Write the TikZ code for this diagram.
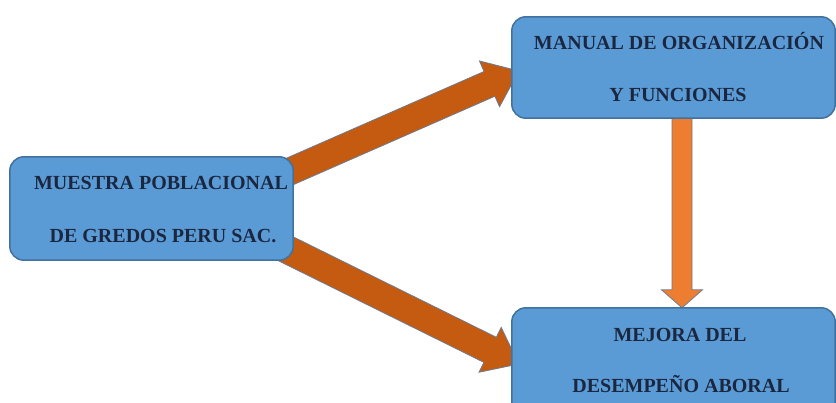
\documentclass[tikz,border=0pt]{standalone}
\usepackage{fontspec}
\setmainfont{Liberation Serif}
\usetikzlibrary{calc}
\definecolor{boxblue}{HTML}{5B9BD5}
\definecolor{boxedge}{HTML}{41719C}
\definecolor{darkorange}{HTML}{C55A11}
\definecolor{lightorange}{HTML}{ED7D31}
\definecolor{arrowedge}{HTML}{6E7B8E}
\definecolor{txt}{HTML}{1B2740}
\newcommand\fatarrow[6]{%
  \coordinate (fa-h) at ($(#2)!#5!(#1)$);
  \draw[#6] ($(#1)!#3!90:(#2)$) -- ($(fa-h)!#3!90:(#2)$) -- ($(fa-h)!#4!90:(#2)$) -- (#2)
    -- ($(fa-h)!#4!-90:(#2)$) -- ($(fa-h)!#3!-90:(#2)$) -- ($(#1)!#3!-90:(#2)$) -- cycle;}
\begin{document}
\begin{tikzpicture}[x=1pt,y=-1pt,
  blok/.style={draw=boxedge, line width=1.5pt, fill=boxblue, rounded corners=14pt, inner sep=0pt},
  lbl/.style={anchor=base, font=\bfseries\fontsize{20}{20}\selectfont, text=txt, inner sep=0pt},
  darr/.style={fill=darkorange, draw=arrowedge, line width=0.8pt, line join=miter},
  varr/.style={fill=lightorange, draw=arrowedge, line width=0.8pt, line join=miter}]
\useasboundingbox (0,0) rectangle (836,403);
\clip (0,0) rectangle (836,403);
% box positions (named, drawn later)
\coordinate (lc) at (151.5,208.5);
\coordinate (tc) at (673.5,67.5);
\coordinate (bc) at (673.5,359);
\path (lc) node[minimum width=283pt, minimum height=103pt, inner sep=0pt] (left) {};
\path (tc) node[minimum width=323pt, minimum height=101pt, inner sep=0pt] (top) {};
\path (bc) node[minimum width=323pt, minimum height=102pt, inner sep=0pt] (bot) {};
% arrow end points
\coordinate (a1s) at ($(left.east)+(-8,-35)$);
\coordinate (a1t) at ($(top.west)+(7,3.5)$);
\coordinate (a2s) at ($(left.east)+(-8,40)$);
\coordinate (a2t) at ($(bot.west)+(7,5)$);
\coordinate (a3s) at ($(top.south)+(8.5,-3)$);
\coordinate (a3t) at ($(bot.north)+(8.5,0)$);
\fatarrow{a1s}{a1t}{13.5pt}{25pt}{32pt}{darr}
\fatarrow{a2s}{a2t}{14pt}{25pt}{32pt}{darr}
\fatarrow{a3s}{a3t}{10pt}{20.5pt}{18pt}{varr}
% boxes
\draw[blok] (left.north west) rectangle (left.south east);
\draw[blok] (top.north west) rectangle (top.south east);
\draw[blok] (bot.north west) rectangle ($(bot.south east)+(0,10)$);
% texts
\node[lbl] (l1) at (161,190) {MUESTRA POBLACIONAL};
\node[lbl] (l2) at (163,243) {DE GREDOS PERU SAC.};
\node[lbl] (t1) at (679,50) {MANUAL DE ORGANIZACIÓN};
\node[lbl] (t2) at (678,102) {Y FUNCIONES};
\node[lbl] (b1) at (680,342) {MEJORA DEL};
\node[lbl] (b2) at (681,393) {DESEMPEÑO ABORAL};
\end{tikzpicture}
\end{document}
